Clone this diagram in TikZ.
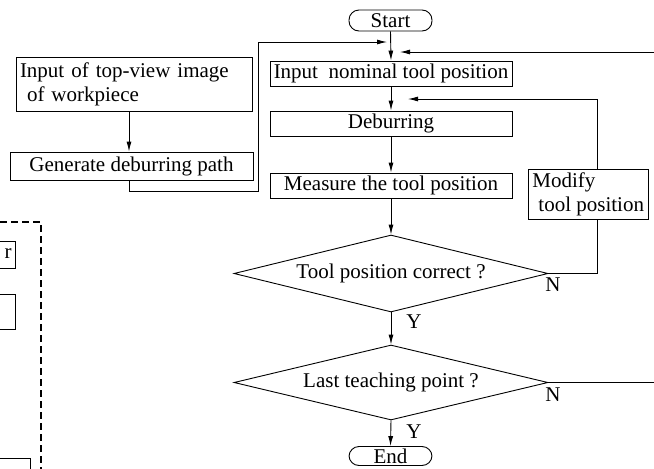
\documentclass[tikz,border=0pt]{standalone}
\usepackage{fontspec}
\setmainfont{Liberation Serif}
\usetikzlibrary{arrows.meta,shapes.geometric}
\begin{document}
\begin{tikzpicture}[x=1pt,y=-1pt,line width=0.9pt,
  every node/.style={font=\fontsize{21}{24}\selectfont},
  box/.style={draw,rectangle,inner sep=0pt},
  term/.style={draw,rectangle,rounded corners=10pt,inner sep=0pt,minimum width=83pt,minimum height=21pt},
  dec/.style={draw,diamond,inner sep=0pt},
  arr/.style={-{Latex[length=10pt,width=5pt]}},
  remnant/.style={dash pattern=on 7pt off 4pt,line width=1.4pt}]
\useasboundingbox (0,0) rectangle (654,469);
% main column
\node[term] (start) at (390.5,20.5) {Start};
\node[box,minimum width=242pt,minimum height=25pt] (nom) at (391,73.5) {Input\ \ nominal tool position};
\node[box,minimum width=242pt,minimum height=25pt] (deb) at (391,123.5) {Deburring};
\node[box,minimum width=242pt,minimum height=25pt] (meas) at (391,185.5) {Measure the tool position};
\node[dec,minimum width=314pt,minimum height=77pt] (d1) at (391,273.5) {};
\node at (d1) {Tool position correct ?};
\node[dec,minimum width=314pt,minimum height=75pt] (d2) at (391,382.5) {};
\node at (d2) {Last teaching point ?};
\node[term,minimum height=19pt] (end) at (390.5,456) {End};
\node[box,minimum width=118pt,minimum height=50pt,align=left,anchor=west,inner xsep=4pt] (mod) at (528,194) {Modify\\\hspace{6pt}tool position};
% left column
\node[box,minimum width=236pt,minimum height=54pt,align=left,text width=228pt] (tv) at (134,84) {Input of top-view image\\\hspace{7pt}of workpiece};
\node[box,minimum width=243pt,minimum height=28pt] (gen) at (131.5,166) {Generate deburring path};
% labels
\node (n1) at (553,285) {N};
\node (n2) at (553,395) {N};
\node (y1) at (414,322) {Y};
\node (y2) at (414,432) {Y};
% helper coordinates
\coordinate (gx) at (129,0);
\coordinate (c0) at (258,191);
\coordinate (ltip) at (387,42);
\coordinate (rin) at (654,52);
\coordinate (rtip) at (400,52);
\coordinate (fb) at (408,99);
\coordinate (rout) at (654,382.5);
% connectors
\draw[arr] (start.south) -- (nom.north);
\draw[arr] (nom.south) -- (deb.north);
\draw[arr] (deb.south) -- (meas.north);
\draw[arr] (meas.south) -- (d1.north);
\draw[arr] (d1.south) -- (d2.north);
\draw[arr] (d2.south) -- (end.north);
\draw (d1.east) -| ([xshift=9pt]mod.south);
\draw[arr] ([xshift=9pt]mod.north) |- (fb);
\draw[arr] (rin) -- (rtip);
\draw (d2.east) -- (rout);
\draw[arr] (tv.south -| gx) -- (gen.north -| gx);
\draw[arr] (gen.south -| gx) |- (c0) |- (ltip);
% cropped remnants at the left edge
\draw[remnant] (0,222) -- (41,222) -- (41,472);
\draw (-3,241) rectangle (15,268);
\node[anchor=east,inner sep=0pt] (rr) at (12,254) {r};
\draw (-3,294) rectangle (15,329);
\draw (-3,458) rectangle (30,475);
\end{tikzpicture}
\end{document}
